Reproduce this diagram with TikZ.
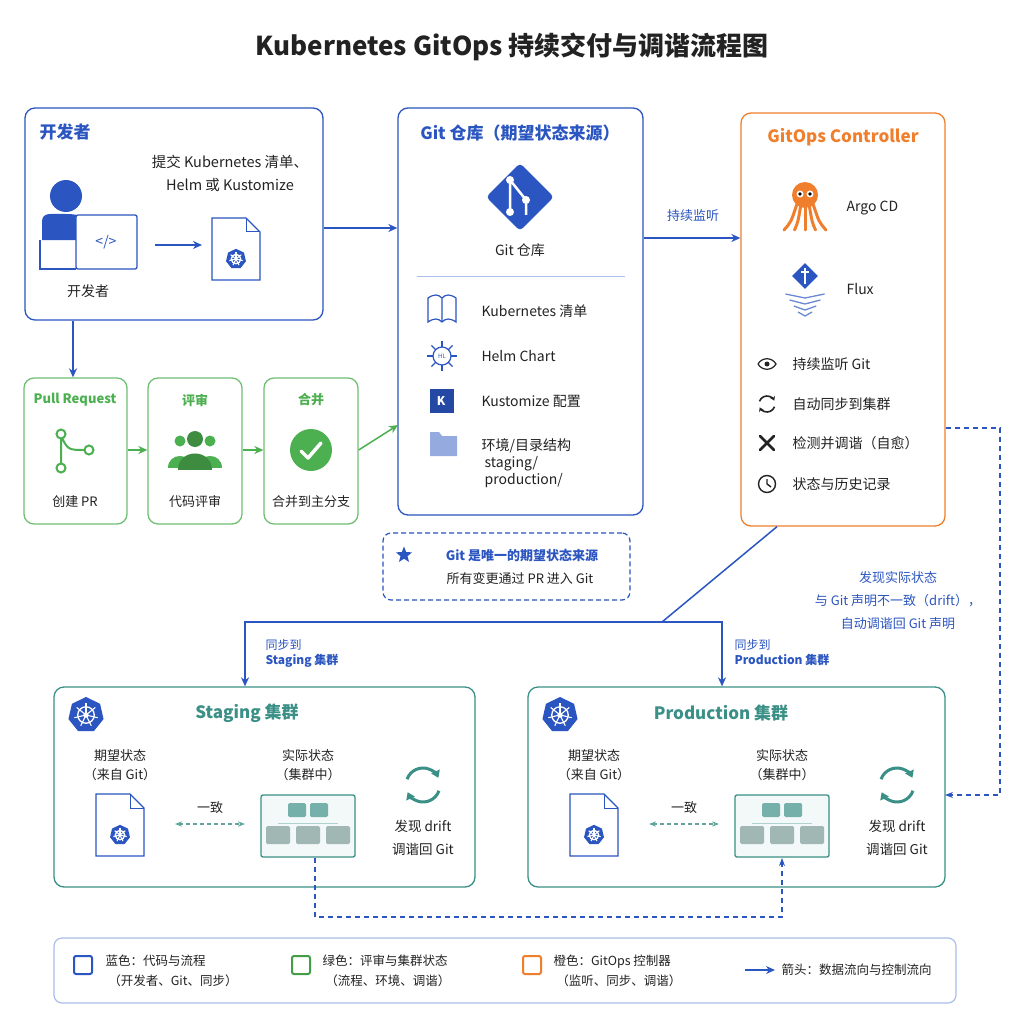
\documentclass[tikz,border=0pt]{standalone}
\usepackage{fontspec}
\setmainfont{Noto Sans CJK SC}
\usetikzlibrary{arrows.meta,shapes.geometric}
\definecolor{cb}{HTML}{2B55C0}
\definecolor{cg}{HTML}{4CAF50}
\definecolor{co}{HTML}{F07F2D}
\definecolor{ct}{HTML}{3A8F86}
\definecolor{cl}{HTML}{A9BEE8}
\definecolor{ctx}{HTML}{222222}
\tikzset{
 box/.style={draw,rounded corners=10pt,line width=1.3pt},
 t/.style={font=\fontsize{14}{17}\selectfont,text=ctx,align=center},
 ts/.style={font=\fontsize{13}{16}\selectfont,text=ctx,align=center},
 hd/.style={font=\bfseries\fontsize{17}{20}\selectfont},
 arr/.style={draw=cb,line width=1.5pt,-{Stealth[length=9pt,width=8pt]}},
 garr/.style={draw=cg,line width=1.5pt,-{Stealth[length=9pt,width=8pt]}},
 dsh/.style={draw=cb,line width=1.2pt,dash pattern=on 5pt off 4pt},
 kube/.pic={\node[regular polygon,regular polygon sides=7,fill=cb,minimum size=24pt,inner sep=0,transform shape]{};
  \draw[white,line width=1.3pt](0,0) circle(5.5pt);
  \foreach \a in {90,141,193,244,296,347,39}{\draw[white,line width=1.1pt](0,0)--(\a:8pt);}
  \fill[white](0,0) circle(1.8pt);},
 doc/.pic={\draw[cb,line width=1.2pt,fill=white](-24,-31)--(10,-31)--(24,-17)--(24,31)--(-24,31)--cycle;
  \draw[cb,line width=1pt](10,-31)--(10,-17)--(24,-17);
  \pic[scale=0.85] at (0,10) {kube};},
 sync/.pic={\draw[ct,line width=3pt,-{Triangle[length=7pt,width=9pt]}](160:17pt) arc(160:25:17pt);
  \draw[ct,line width=3pt,-{Triangle[length=7pt,width=9pt]}](-20:17pt) arc(-20:-155:17pt);},
 syncd/.pic={\draw[ctx,line width=1.6pt,-{Stealth[length=4pt,width=5pt]}](160:8pt) arc(160:25:8pt);
  \draw[ctx,line width=1.6pt,-{Stealth[length=4pt,width=5pt]}](-20:8pt) arc(-20:-155:8pt);},
 actual/.pic={\draw[ct,line width=1.3pt,fill=ct!6,rounded corners=2pt](-47,-31) rectangle (47,31);
  \fill[ct!70!white,rounded corners=1.5pt](-20,-23) rectangle (-2,-9);
  \fill[ct!70!white,rounded corners=1.5pt](2,-23) rectangle (20,-9);
  \draw[ct!40,line width=0.8pt](-30,-3)--(30,-3);
  \foreach \x in {-30,0,30}{\fill[ct!45!gray!60,rounded corners=1.5pt](\x-12,0) rectangle (\x+12,18);}},
}
\begin{document}
\begin{tikzpicture}[x=1pt,y=-1pt]
\useasboundingbox (0,0) rectangle (1024,1024);
\fill[white](0,0) rectangle (1024,1024);
\node[font=\bfseries\fontsize{26}{30}\selectfont,text=ctx] (title) at (512,47) {Kubernetes GitOps 持续交付与调谐流程图};

% developer
\node[box,draw=cb,minimum width=298pt,minimum height=212pt] (dev) at (174,214) {};
\node[hd,text=cb,anchor=west] (devt) at (36,132) {开发者};
\fill[cb](66,196) circle(16pt);
\fill[cb](42,240)--(42,222) .. controls (42,212) and (50,214) .. (66,214) .. controls (82,214) and (88,218) .. (88,230)--(88,240)--cycle;
\draw[cb,line width=1.3pt,fill=white,rounded corners=2pt](76,215) rectangle (137,269);
\draw[cb,line width=1.3pt](40,240)--(40,269)--(76,269);
\node[font=\fontsize{14}{15}\selectfont,text=cb] (code) at (106,242) {</>};
\node[t] (devn) at (88,291) {开发者};
\node[t,font=\fontsize{14.5}{23}\selectfont] (subm) at (230,173) {提交 Kubernetes 清单、\\Helm 或 Kustomize};
\coordinate (da1) at (155,245); \coordinate (da2) at (202,245);
\draw[arr] (da1)--(da2);
\pic at (236,249) {doc};

% git repo
\node[box,draw=cb,minimum width=245pt,minimum height=407pt] (git) at (520.5,311.5) {};
\node[hd,text=cb] (gitt) at (520,133) {Git 仓库（期望状态来源）};
\node[diamond,fill=cb,minimum size=68pt,rounded corners=4pt,inner sep=0] (gicon) at (520,197) {};
\draw[white,line width=2.5pt](510,180)--(526,200) (510,180)--(510,210) (526,200)--(526,215);
\fill[white](510,180) circle(4pt) (526,200) circle(4pt) (510,212) circle(4pt);
\node[t] (gitn) at (520,250) {Git 仓库};
\draw[cl,line width=1pt](417,276)--(625,276);
\draw[cb,line width=1.2pt](428,298)--(428,322)..controls(434,318)and(438,318)..(442,322)..controls(446,318)and(450,318)..(456,322)--(456,298)..controls(450,294)and(446,294)..(442,298)..controls(438,294)and(434,294)..(428,298)--cycle (442,298)--(442,322);
\draw[cb,line width=1.2pt](442,356) circle(9pt);
\foreach \a in {0,45,...,315}{\draw[cb,line width=1.2pt](442,356)+(\a:9pt)--+(\a:15pt);}
\node[font=\fontsize{6}{7}\selectfont,text=cb] at (442,356) {HL};
\fill[cb!85!black](430,389) rectangle (454,413);
\node[font=\bfseries\fontsize{12}{14}\selectfont,text=white] at (441,401) {K};
\fill[cb!50!white](430,432)--(439,432)--(442,436)--(457,436)--(457,456)--(430,456)--cycle;
\node[t,anchor=west] (i1) at (478,311) {Kubernetes 清单};
\node[t,anchor=west] (i2) at (478,356) {Helm Chart};
\node[t,anchor=west] (i3) at (478,401) {Kustomize 配置};
\node[t,anchor=west,align=left] (i4) at (478,463) {环境/目录结构\\\ staging/\\\ production/};

\draw[arr] (dev.east |- 0,228) -- (git.west |- 0,228);

% controller
\node[box,draw=co,minimum width=204pt,minimum height=413pt] (ctl) at (843,319.5) {};
\node[hd,text=co] (ctlt) at (843,137) {GitOps Controller};
\fill[co](805,195) circle(13pt);
\foreach \x in {-14,-7,0,7,14}{\draw[co,line width=3pt,line cap=round](805+\x*0.6,205)..controls(805+\x,222)..(805+\x*1.5,230);}
\fill[white](800,194) circle(3.5pt) (810,194) circle(3.5pt);
\fill[black](800,194) circle(1.8pt) (810,194) circle(1.8pt);
\node[t,anchor=west] (argo) at (843,208) {Argo CD};
\node[diamond,fill=cb,minimum size=26pt,inner sep=0] (fl) at (805,276) {};
\draw[white,line width=1.2pt](805,268)--(805,284) (801,272)--(809,272);
\foreach \y/\w in {294/14,300/11,306/8,312/5}{\draw[cb!70,line width=1.3pt](805-\w*1.4,\y)--(805,\y+4)--(805+\w*1.4,\y);}
\node[t,anchor=west] (flux) at (843,289) {Flux};
\draw[ctx,line width=1.2pt](758,364)..controls(762,357)and(772,357)..(776,364)..controls(772,371)and(762,371)..(758,364);
\fill[ctx](767,364) circle(2.5pt);
\pic at (767,404) {syncd};
\draw[ctx,line width=2.5pt,line cap=round](760,436)--(774,450) (774,436)--(760,450);
\draw[ctx,line width=1.4pt](767,484) circle(8.5pt);
\draw[ctx,line width=1.4pt](767,479)--(767,484)--(771,487);
\node[t,anchor=west] (c1) at (789,364) {持续监听 Git};
\node[t,anchor=west] (c2) at (789,404) {自动同步到集群};
\node[t,anchor=west] (c3) at (789,443) {检测并调谐（自愈）};
\node[t,anchor=west] (c4) at (789,484) {状态与历史记录};
\draw[arr] (git.east |- 0,238) -- (ctl.west |- 0,238);
\node[ts,text=cb] (lis) at (693,216) {持续监听};

% green flow
\node[box,draw=cg!80,minimum width=103pt,minimum height=146pt] (pr) at (75.5,451) {};
\node[box,draw=cg!80,minimum width=94pt,minimum height=146pt] (rv) at (195,451) {};
\node[box,draw=cg!80,minimum width=94pt,minimum height=146pt] (mg) at (311,451) {};
\draw[arr] (dev.south -| 73,0) -- (pr.north -| 73,0);
\node[font=\bfseries\fontsize{13}{15}\selectfont,text=cg] (prt) at (75,400) {Pull Request};
\node[font=\bfseries\fontsize{13}{15}\selectfont,text=cg] (rvt) at (195,400) {评审};
\node[font=\bfseries\fontsize{13}{15}\selectfont,text=cg] (mgt) at (311,400) {合并};
\draw[cg,line width=2pt](61,436)--(61,464) (61,436)..controls(68,450)..(86,450);
\draw[cg,line width=2pt,fill=white](61,434) circle(4.5pt) (61,468) circle(4.5pt) (89,450) circle(4.5pt);
\fill[cg](180,441) circle(5.5pt) (210,441) circle(5.5pt);
\fill[cg](168,468)..controls(168,452)and(192,452)..(192,468)--cycle;
\fill[cg](198,468)..controls(198,452)and(222,452)..(222,468)--cycle;
\fill[cg!80!black](195,439) circle(8pt);
\fill[cg!80!black](178,470)..controls(178,448)and(212,448)..(212,470)--cycle;
\fill[cg](311,450) circle(21pt);
\draw[white,line width=3.5pt,line cap=round,line join=round](301,451)--(308,458)--(321,443);
\node[ts] (prn) at (75,502) {创建 PR};
\node[ts] (rvn) at (195,502) {代码评审};
\node[ts] (mgn) at (311,502) {合并到主分支};
\draw[garr] (pr.east |- 0,450) -- (rv.west |- 0,450);
\draw[garr] (rv.east |- 0,450) -- (mg.west |- 0,450);
\coordinate (ge) at (398,425);
\draw[garr] (mg.east |- 0,450) -- (ge);

% note
\node[draw=cb,line width=1.2pt,dash pattern=on 5pt off 3pt,rounded corners=8pt,minimum width=247pt,minimum height=67pt] (note) at (506.5,566.5) {};
\node[star,star points=5,star point ratio=2.3,fill=cb,minimum size=17pt,inner sep=0] (st) at (404,555) {};
\node[font=\bfseries\fontsize{13}{15}\selectfont,text=cb] (n1) at (522,555) {Git 是唯一的期望状态来源};
\node[ts] (n2) at (520,579) {所有变更通过 PR 进入 Git};

% clusters
\node[box,draw=ct,minimum width=421pt,minimum height=200pt] (stg) at (264.5,787) {};
\node[box,draw=ct,minimum width=417pt,minimum height=200pt] (prd) at (736.5,787) {};
\coordinate (j1) at (662,622);
\coordinate (j2) at (245,622);
\coordinate (j3) at (722,622);
\draw[draw=cb,line width=1.5pt](ctl.south -| 777,0)--(j1);
\draw[arr](j1)--(j3)--(prd.north -| j3);
\draw[arr](j1)--(j2)--(stg.north -| j2);
\node[ts,text=cb,anchor=west,align=left,font=\bfseries\fontsize{12}{15}\selectfont] (s1) at (262,653) {\mdseries 同步到\\Staging 集群};
\node[ts,text=cb,anchor=west,align=left,font=\bfseries\fontsize{12}{15}\selectfont] (s2) at (731,653) {\mdseries 同步到\\Production 集群};

\foreach \dx/\nm/\ttl in {0/a/Staging 集群,474/b/Production 集群}{
 \begin{scope}[xshift=\dx]
 \pic[scale=1.5] at (86,715) {kube};
 \node[font=\bfseries\fontsize{17}{20}\selectfont,text=ct] (tt\nm) at (247,713) {\ttl};
 \node[ts,font=\fontsize{13}{19}\selectfont] (des\nm) at (120,765) {期望状态\\（来自 Git）};
 \node[ts,font=\fontsize{13}{19}\selectfont] (act\nm) at (308,765) {实际状态\\（集群中）};
 \pic at (120,825) {doc};
 \pic at (308,826) {actual};
 \node[ts] (yz\nm) at (210,808) {一致};
 \draw[draw=ct!80,line width=1.2pt,dash pattern=on 4pt off 3pt,{Stealth[length=7pt]}-{Stealth[length=7pt]}](175,824)--(245,824);
 \pic at (423,785) {sync};
 \node[t,font=\fontsize{13.5}{23}\selectfont] (dr\nm) at (423,838) {发现 drift\\调谐回 Git};
 \end{scope}}

% drift loop
\coordinate (d1) at (1000,428); \coordinate (d2) at (1000,795); \coordinate (d3) at (945,795);
\draw[dsh,-{Stealth[length=8pt]}](ctl.east |- d1)--(d1)--(d2)--(d3);
\node[ts,text=cb,font=\fontsize{13}{23}\selectfont] (drl) at (898,601) {发现实际状态\\与 Git 声明不一致（drift），\\自动调谐回 Git 声明};
\coordinate (b1) at (315,917); \coordinate (b2) at (782,917);
\draw[dsh,-{Stealth[length=8pt]}](315,858)--(b1)--(b2)--(782,858);

% legend
\node[draw=cl,line width=1.2pt,rounded corners=8pt,minimum width=902pt,minimum height=65pt] (leg) at (505,970.5) {};
\draw[cb,line width=2pt,rounded corners=2pt](74,956) rectangle (92,974);
\draw[cg!90!black,line width=2pt,rounded corners=2pt](292,956) rectangle (310,974);
\draw[co,line width=2pt,rounded corners=2pt](523,956) rectangle (541,974);
\node[ts,anchor=west,align=left,font=\fontsize{12.5}{20}\selectfont] (l1) at (102,971) {蓝色：代码与流程\\\ （开发者、Git、同步）};
\node[ts,anchor=west,align=left,font=\fontsize{12.5}{20}\selectfont] (l2) at (319,971) {绿色：评审与集群状态\\\ （流程、环境、调谐）};
\node[ts,anchor=west,align=left,font=\fontsize{12.5}{20}\selectfont] (l3) at (550,971) {橙色：GitOps 控制器\\\ （监听、同步、调谐）};
\coordinate (la1) at (745,970); \coordinate (la2) at (775,970);
\draw[arr](la1)--(la2);
\node[ts,anchor=west,font=\fontsize{12.5}{15}\selectfont] (l4) at (778,970) {箭头：数据流向与控制流向};
\end{tikzpicture}
\end{document}
